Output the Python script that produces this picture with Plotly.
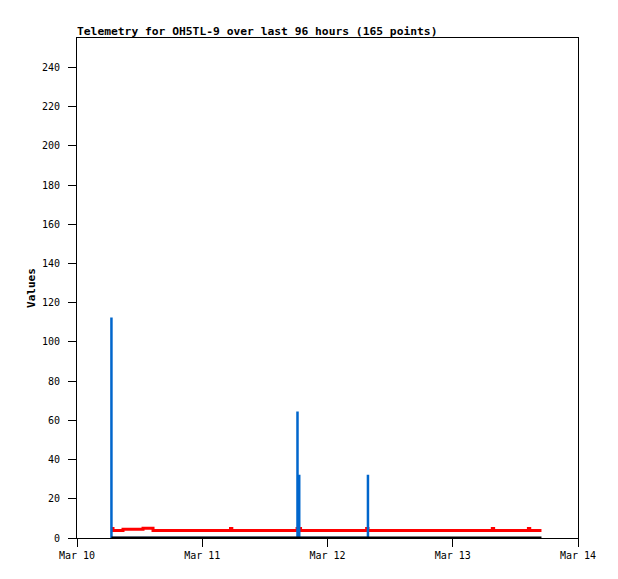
import plotly.graph_objects as go

# red series (step line)
red_times = [
    "2024-03-10 06:30", "2024-03-10 06:54", "2024-03-10 08:49", "2024-03-10 12:39",
    "2024-03-10 14:34", "2024-03-11 05:25", "2024-03-11 05:40", "2024-03-11 18:10",
    "2024-03-11 18:50", "2024-03-12 07:30", "2024-03-12 07:45", "2024-03-13 07:35",
    "2024-03-13 07:50", "2024-03-13 14:30", "2024-03-13 14:45", "2024-03-13 17:00",
]
red_values = [4.9, 3.8, 4.4, 5.0, 3.8, 4.9, 3.8, 4.9, 3.8, 4.9, 3.8, 4.9, 3.8, 4.9, 3.8, 3.8]

# black series (flat at zero)
black_times = ["2024-03-10 06:36", "2024-03-13 17:00"]
black_values = [0, 0]

# blue series (spikes)
blue_times = [
    "2024-03-10 06:36", "2024-03-10 06:36", "2024-03-10 06:36",
    "2024-03-11 18:15", "2024-03-11 18:15", "2024-03-11 18:15",
    "2024-03-11 18:35", "2024-03-11 18:35", "2024-03-11 18:35",
    "2024-03-12 07:45", "2024-03-12 07:45", "2024-03-12 07:45",
]
blue_values = [0, 112.5, 0, 0, 64.5, 0, 0, 32.3, 0, 0, 32.3, 0]

tick_vals = ["2024-03-10", "2024-03-11", "2024-03-12", "2024-03-13", "2024-03-14"]
tick_text = ["Mar 10", "Mar 11", "Mar 12", "Mar 13", "Mar 14"]

font = "DejaVu Sans Mono, Liberation Mono, monospace"

fig = go.Figure()
fig.add_trace(go.Scatter(x=red_times, y=red_values, mode="lines", line_shape="hv",
                         line=dict(color="#ff0000", width=3), hoverinfo="skip"))
fig.add_trace(go.Scatter(x=blue_times, y=blue_values, mode="lines",
                         line=dict(color="#0066cc", width=2.5), hoverinfo="skip"))
fig.add_trace(go.Scatter(x=black_times, y=black_values, mode="lines",
                         line=dict(color="#000000", width=3), hoverinfo="skip"))

# the page body adds an 8px margin, so the figure is 8px smaller on each axis
W, H = 610, 571
fig.update_layout(
    width=W,
    height=H,
    margin=dict(l=69, r=40, t=30, b=41),
    paper_bgcolor="white",
    plot_bgcolor="white",
    showlegend=False,
    font=dict(family=font, size=10, color="black"),
    title=dict(text="<b>Telemetry for OH5TL-9 over last 96 hours (165 points)</b>",
               x=69 / W, xanchor="left", y=1 - 27 / H, yanchor="bottom",
               font=dict(family=font, size=11.3, color="black")),
)
fig.update_xaxes(
    type="date", range=["2024-03-10", "2024-03-14"],
    tickvals=tick_vals, ticktext=tick_text,
    showgrid=False, zeroline=False,
    showline=True, linecolor="black", linewidth=1, mirror=True,
    ticks="outside", ticklen=8, tickcolor="black", tickwidth=1,
)
fig.update_yaxes(
    range=[0, 255], tickvals=list(range(0, 241, 20)),
    showgrid=False, zeroline=False,
    showline=True, linecolor="black", linewidth=1, mirror=True,
    ticks="outside", ticklen=8, tickcolor="black", tickwidth=1,
    ticklabelstandoff=6,
    title=dict(text="<b>Values</b>", standoff=4, font=dict(size=11)),
)

fig.write_html("out.html")
